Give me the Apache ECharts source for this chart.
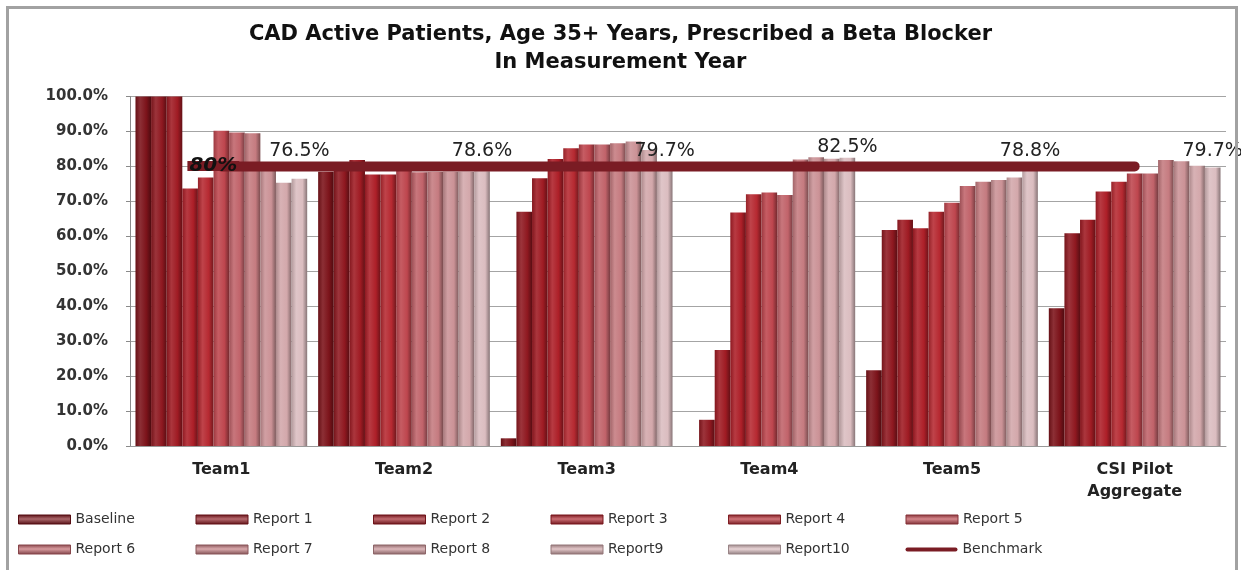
<!DOCTYPE html>
<html>
<head>
<meta charset="utf-8">
<title>CAD Active Patients - Beta Blocker</title>
<script src="https://cdn.jsdelivr.net/npm/echarts@6/dist/echarts.min.js"></script>
<style>
  html, body { margin: 0; padding: 0; background: #fff; }
  #wrap { position: relative; width: 1241px; height: 570px; overflow: hidden; }
  #chart { position: absolute; left: 0; top: 0; width: 1241px; height: 570px; }
  #frame { position: absolute; left: 6px; top: 6px; width: 1226px; height: 600px;
           border: 3px solid #a2a2a2; pointer-events: none; }
</style>
</head>
<body>
<div id="wrap">
  <div id="chart"></div>
  <div id="frame"></div>
</div>
<script>
// Teams and the pilot aggregate
const categories = ['Team1', 'Team2', 'Team3', 'Team4', 'Team5', 'CSI Pilot\nAggregate'];

// Share of CAD patients (35+) prescribed a beta blocker, in percent
const baseline = [100, 78.5, 2.2, 0, 21.7, 39.4];
const report1  = [100, 79.5, 67.0, 7.5, 61.8, 60.9];
const report2  = [100, 81.8, 76.6, 27.5, 64.7, 64.7];
const report3  = [73.7, 77.7, 82.1, 66.8, 62.3, 72.8];
const report4  = [76.8, 77.7, 85.2, 72.0, 67.0, 75.6];
const report5  = [90.2, 79.6, 86.3, 72.5, 69.6, 78.0];
const report6  = [89.7, 78.3, 86.3, 71.8, 74.4, 78.0];
const report7  = [89.5, 78.4, 86.6, 82.0, 75.6, 81.8];
const report8  = [79.8, 78.5, 87.1, 82.6, 76.1, 81.5];
const report9  = [75.3, 78.5, 84.7, 82.2, 76.8, 80.2];
const report10 = [76.5, 78.6, 79.7, 82.5, 78.8, 79.7];
const benchmark = [80, 80, 80, 80, 80, 80];

const seriesNames = ['Baseline', 'Report 1', 'Report 2', 'Report 3', 'Report 4', 'Report 5',
                     'Report 6', 'Report 7', 'Report 8', 'Report9', 'Report10'];
const seriesValues = [baseline, report1, report2, report3, report4, report5,
                      report6, report7, report8, report9, report10];

// Dark maroon to pale rose, one shade per reporting period
const palette = ['#7c131a', '#8f1820', '#9f1b23', '#ad1f28', '#b62931', '#be464e',
                 '#c1636a', '#c57b80', '#cb9296', '#d3a8ab', '#dbbdc0'];
const benchmarkColor = '#7a1c24';

function hexToRgb(h) {
  const n = parseInt(h.slice(1), 16);
  return [(n >> 16) & 255, (n >> 8) & 255, n & 255];
}
function mix(h, target, t) {
  const a = hexToRgb(h), b = hexToRgb(target);
  const c = a.map((v, i) => Math.round(v + (b[i] - v) * t));
  return 'rgb(' + c.join(',') + ')';
}
// Cylinder-like shading across the bar
function barFill(c) {
  return {
    type: 'linear', x: 0, y: 0, x2: 1, y2: 0,
    colorStops: [
      { offset: 0, color: mix(c, '#000000', 0.18) },
      { offset: 0.3, color: mix(c, '#ffffff', 0.12) },
      { offset: 0.7, color: c },
      { offset: 1, color: mix(c, '#000000', 0.38) }
    ]
  };
}
// Same shading turned sideways for the legend swatch
function legendFill(c) {
  return {
    type: 'linear', x: 0, y: 0, x2: 0, y2: 1,
    colorStops: [
      { offset: 0, color: mix(c, '#000000', 0.3) },
      { offset: 0.45, color: mix(c, '#ffffff', 0.35) },
      { offset: 1, color: mix(c, '#000000', 0.35) }
    ]
  };
}

const fontFamily = '"DejaVu Sans", Verdana, sans-serif';

const series = seriesNames.map((name, i) => {
  const s = {
    name: name,
    type: 'bar',
    data: seriesValues[i],
    barGap: '0%',
    barCategoryGap: '6%',
    itemStyle: { color: barFill(palette[i]) },
    emphasis: { disabled: true }
  };
  if (i === seriesNames.length - 1) {
    // latest report value, lifted to sit just above the benchmark band
    s.data = seriesValues[i].map(v => ({
      value: v,
      label: {
        show: true,
        position: 'top',
        distance: 1,
        offset: [0, -Math.max(81.5 - v, 0) * 3.5],
        formatter: p => p.value.toFixed(1) + '%',
        fontFamily: fontFamily,
        fontSize: 19,
        color: '#222'
      }
    }));
  }
  return s;
});

series.push({
  name: 'Benchmark',
  type: 'line',
  z: 5,
  data: benchmark.map((v, i) => i === 0 ? {
    value: v,
    label: {
      show: true,
      position: 'inside',
      offset: [-8, -1],
      formatter: '80%',
      fontFamily: fontFamily,
      fontSize: 20,
      fontStyle: 'italic',
      fontWeight: 'bold',
      color: '#111',
      lineHeight: 20,
      padding: [0, 2, 0, 2],
      backgroundColor: {
        type: 'linear', x: 0, y: 0, x2: 0, y2: 1,
        colorStops: [
          { offset: 0, color: 'rgba(0,0,0,0)' },
          { offset: 0.3, color: 'rgba(0,0,0,0)' },
          { offset: 0.3, color: benchmarkColor },
          { offset: 0.8, color: benchmarkColor },
          { offset: 0.8, color: 'rgba(0,0,0,0)' },
          { offset: 1, color: 'rgba(0,0,0,0)' }
        ]
      }
    }
  } : v),
  symbol: 'circle',
  symbolSize: 1,
  itemStyle: { color: benchmarkColor },
  lineStyle: { color: benchmarkColor, width: 10, cap: 'round' },
  emphasis: { disabled: true }
});

const legendData = seriesNames.map((name, i) => ({
  name: name,
  icon: 'rect',
  itemStyle: { color: legendFill(palette[i]), borderColor: mix(palette[i], '#000000', 0.3), borderWidth: 1 }
}));
legendData.push({
  name: 'Benchmark',
  icon: 'path://M2,0 L50,0 A2,2 0 0 1 50,4 L2,4 A2,2 0 0 1 2,0 Z',
  itemStyle: { color: benchmarkColor, borderWidth: 0 }
});

const chart = echarts.init(document.getElementById('chart'), null, { renderer: 'canvas' });
chart.setOption({
  backgroundColor: '#ffffff',
  animation: false,
  textStyle: { fontFamily: fontFamily },
  title: {
    text: 'CAD Active Patients, Age 35+ Years, Prescribed a Beta Blocker\nIn Measurement Year',
    left: 'center',
    top: 16,
    textStyle: {
      fontFamily: fontFamily,
      fontSize: 21,
      fontWeight: 'bold',
      color: '#111',
      lineHeight: 28,
      align: 'center'
    }
  },
  legend: {
    data: legendData,
    left: 18,
    top: 507,
    width: 1100,
    padding: 0,
    itemWidth: 52,
    itemHeight: 9,
    itemGap: 5,
    selectedMode: false,
    textStyle: {
      fontFamily: fontFamily,
      fontSize: 14,
      color: '#333',
      width: 115,
      lineHeight: 25
    }
  },
  grid: { left: 130, right: 15, top: 96.5, bottom: 124, containLabel: false },
  xAxis: {
    type: 'category',
    data: categories,
    axisTick: { show: false },
    axisLine: { lineStyle: { color: '#999' } },
    axisLabel: {
      fontFamily: fontFamily,
      fontSize: 16,
      fontWeight: 'bold',
      color: '#222',
      margin: 13,
      lineHeight: 22
    }
  },
  yAxis: {
    type: 'value',
    min: 0,
    max: 100,
    interval: 10,
    axisLine: { show: true, lineStyle: { color: '#8a8a8a' } },
    axisTick: { show: true, length: 4, lineStyle: { color: '#8a8a8a' } },
    splitLine: { lineStyle: { color: '#a4a4a4' } },
    axisLabel: {
      formatter: v => v.toFixed(1) + '%',
      fontFamily: fontFamily,
      fontSize: 15,
      fontWeight: 'bold',
      color: '#333',
      margin: 22
    }
  },
  series: series
});
</script>
</body>
</html>
